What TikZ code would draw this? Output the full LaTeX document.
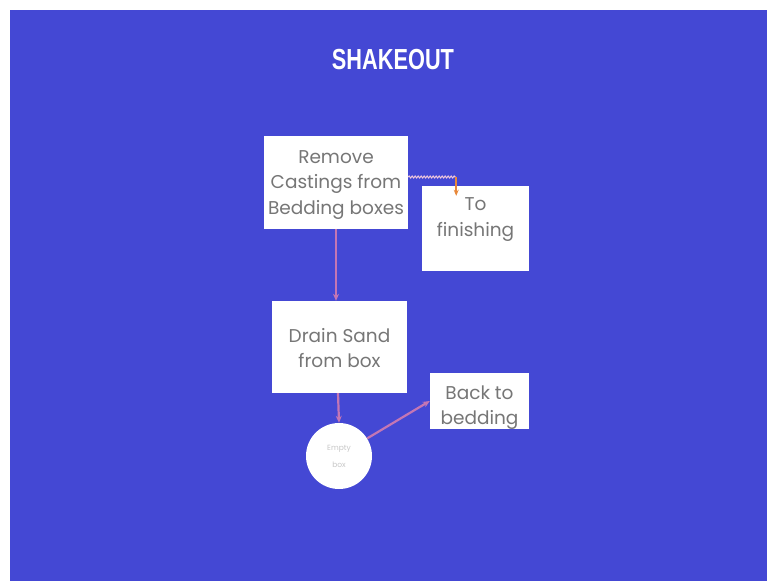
\documentclass[tikz,border=0pt]{standalone}
\usepackage{fontspec}
\setmainfont{Poppins}
\newfontfamily\titlefont{Liberation Sans}
\usetikzlibrary{arrows.meta,decorations.pathmorphing,calc}
\definecolor{slideblue}{RGB}{68,72,212}
\definecolor{boxtext}{RGB}{118,118,118}
\definecolor{arrowpink}{RGB}{196,118,180}
\definecolor{arroworange}{RGB}{232,136,58}
\definecolor{wavepink}{RGB}{240,200,220}
\newcommand{\boxlines}[3]{\begin{tabular}{@{}c@{}}\rule{0pt}{#1}#2\\[#3]\end{tabular}}
\tikzset{
  stepbox/.style={draw=none, fill=white, align=center, text=boxtext,
    font=\fontsize{18.5}{25.5}\selectfont, inner sep=0pt},
  flow/.style={draw=arrowpink, line width=2.2pt, -{Stealth[length=7pt,width=6pt]}},
  orangeflow/.style={draw=arroworange, line width=1.6pt, -{Stealth[length=6pt,width=5pt]}},
  wavy/.style={draw=wavepink, line width=1pt, decorate,
    decoration={snake, amplitude=1pt, segment length=3pt}}
}
\begin{document}
\begin{tikzpicture}[x=1pt, y=-1pt]
\useasboundingbox (0,0) rectangle (767,581);
\fill[white] (0,0) rectangle (767,581);
\fill[slideblue] (10,10) rectangle (767,581);

\node[text=white, font=\titlefont\bfseries\fontsize{29}{30}\selectfont] (title) at (393,60)
  {\scalebox{0.75}[1]{SHAKEOUT}};

\node[stepbox, minimum width=144pt, minimum height=93pt] (b1) at (336,182.5)
  {\boxlines{20pt}{Remove\\Castings from\\Bedding boxes}{0pt}};
\node[stepbox, minimum width=107pt, minimum height=85pt] (b2) at (475.5,228.5)
  {\boxlines{0pt}{To\\finishing}{20pt}};
\node[stepbox, minimum width=135pt, minimum height=92pt] (b3) at (339.5,347)
  {\boxlines{24pt}{Drain Sand\\from box}{0pt}};
\node[stepbox, minimum width=99pt, minimum height=56pt, inner ysep=-5pt] (b4) at (479.5,401)
  {\boxlines{30pt}{Back to\\bedding}{0pt}};
\node[circle, fill=white, minimum size=66pt, inner sep=0pt, align=center,
  text=black!22, font=\fontsize{7.5}{17}\selectfont] (c) at (339,456)
  {Empty\\box};

\draw[flow] (b1.south) -- (b1.south |- b3.north);
\draw[flow] ([xshift=-1.5pt]b3.south) -- (c.north);
\draw[flow] (c.32) -- (b4.west);

\draw[wavy] ([yshift=5.5pt]b1.east) -- ++(48,0) coordinate (k);
\draw[orangeflow] (k) -- ([yshift=-10pt]k |- b2.north);
\end{tikzpicture}
\end{document}
